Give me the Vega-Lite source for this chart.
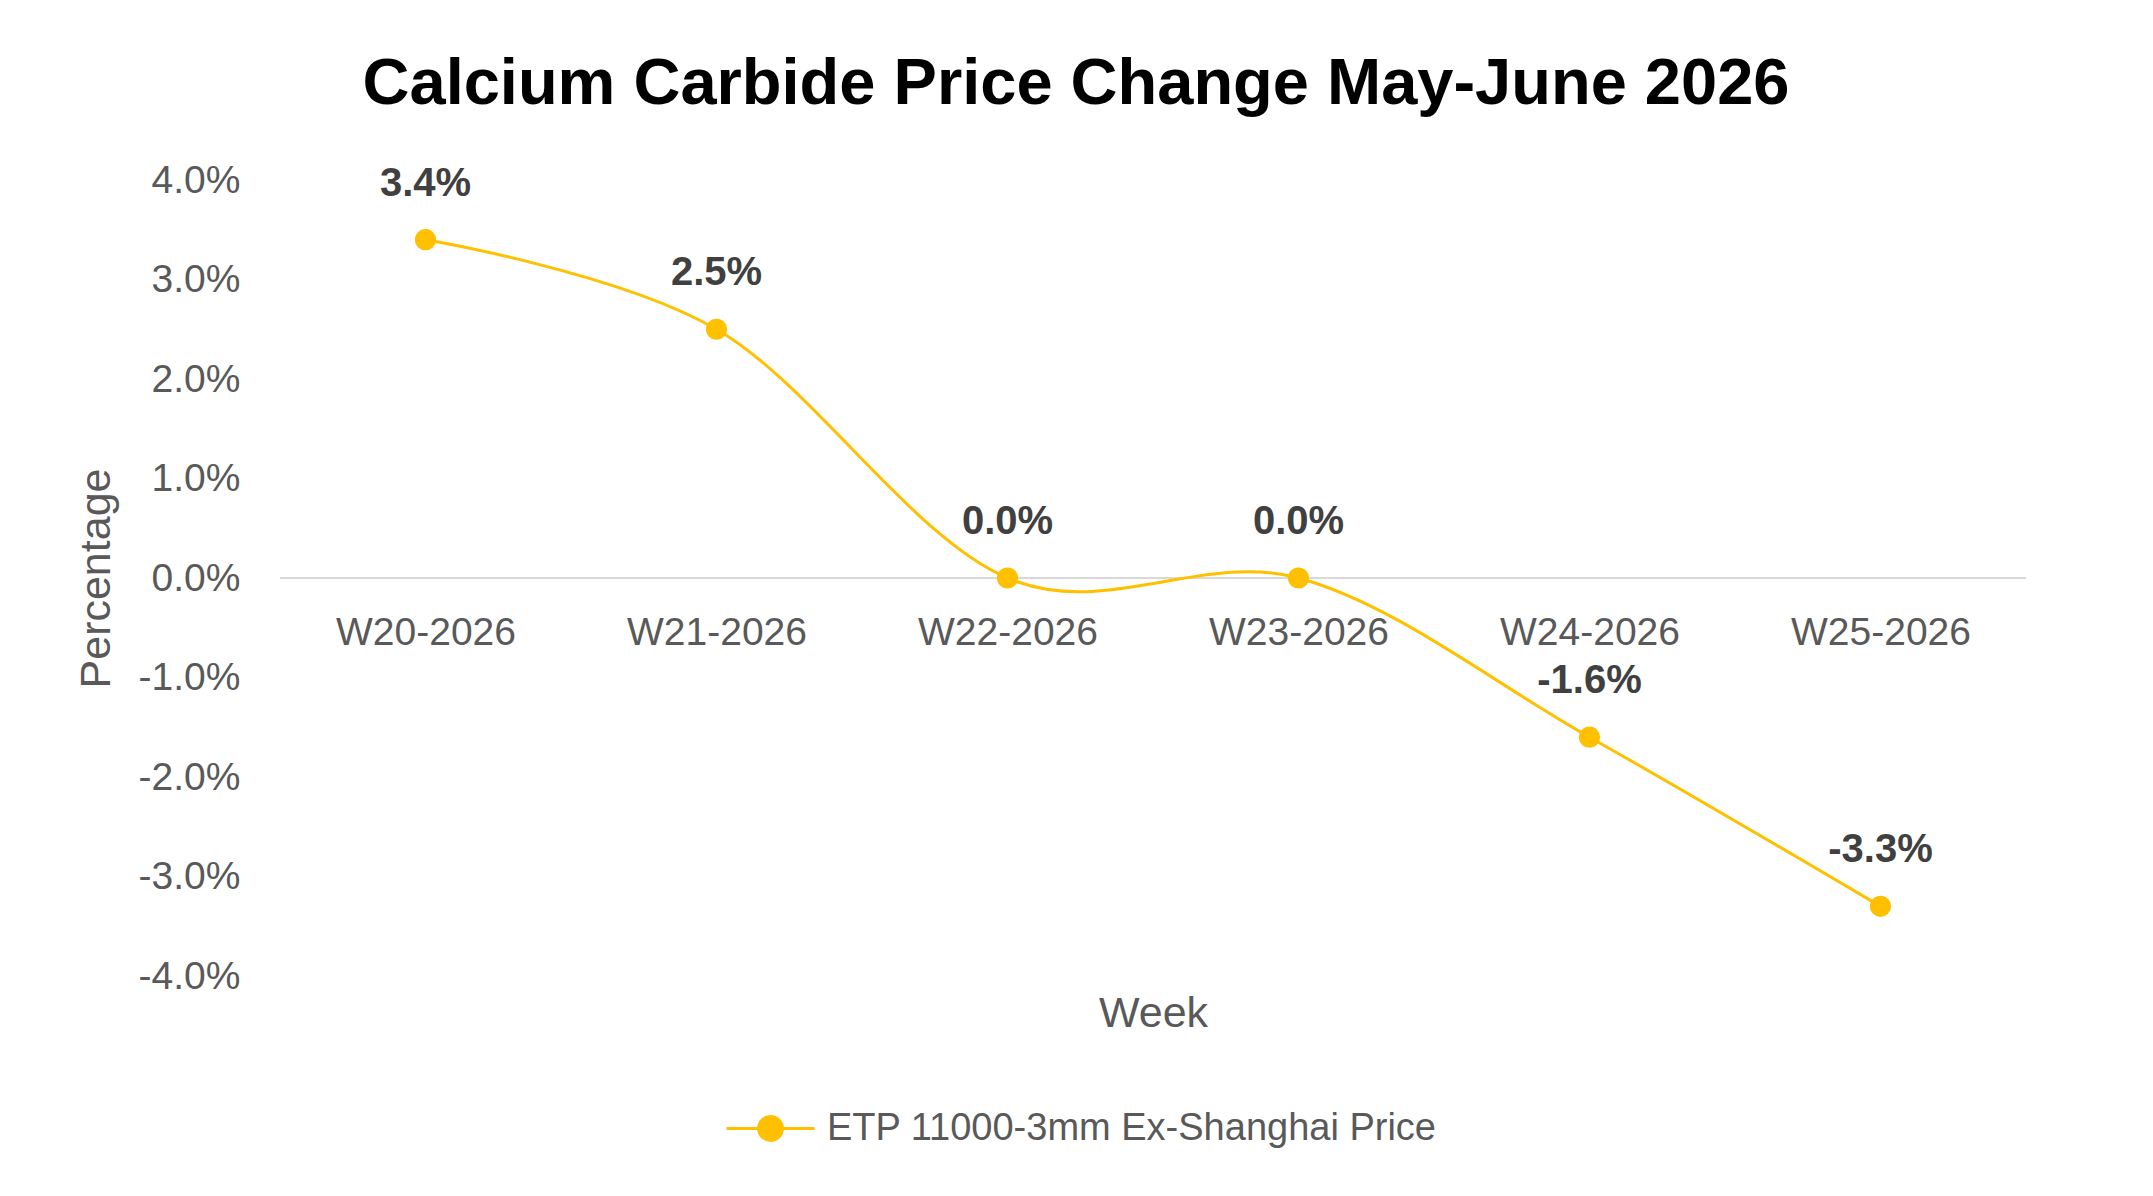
{
  "$schema": "https://vega.github.io/schema/vega-lite/v6.json",
  "autosize": {"type": "none"},
  "width": 1746,
  "height": 796,
  "padding": {"left": 280, "top": 180, "right": 127, "bottom": 220},
  "background": "white",
  "title": {
    "text": "Calcium Carbide Price Change May-June 2026",
    "font": "Liberation Sans",
    "fontSize": 65,
    "fontWeight": "bold",
    "color": "#000000",
    "anchor": "middle",
    "frame": "group",
    "dx": -77,
    "offset": 43
  },
  "data": {
    "values": [
      {"week": "W20-2026", "change": 0.034, "series": "ETP 11000-3mm Ex-Shanghai Price"},
      {"week": "W21-2026", "change": 0.025, "series": "ETP 11000-3mm Ex-Shanghai Price"},
      {"week": "W22-2026", "change": 0.0, "series": "ETP 11000-3mm Ex-Shanghai Price"},
      {"week": "W23-2026", "change": 0.0, "series": "ETP 11000-3mm Ex-Shanghai Price"},
      {"week": "W24-2026", "change": -0.016, "series": "ETP 11000-3mm Ex-Shanghai Price"},
      {"week": "W25-2026", "change": -0.033, "series": "ETP 11000-3mm Ex-Shanghai Price"}
    ]
  },
  "encoding": {
    "x": {
      "field": "week",
      "type": "ordinal",
      "sort": null,
      "scale": {"type": "point", "padding": 0.5},
      "axis": {
        "title": "Week",
        "titleFont": "Liberation Sans",
        "titleFontSize": 43,
        "titleFontWeight": "normal",
        "titleColor": "#595959",
        "titleY": 435,
        "titleBaseline": "middle",
        "labelFont": "Liberation Sans",
        "labelFontSize": 39,
        "labelColor": "#595959",
        "labelAngle": 0,
        "labelBaseline": "middle",
        "labelPadding": 54,
        "ticks": false,
        "tickSize": 0,
        "domain": false,
        "grid": false,
        "offset": -398
      }
    },
    "y": {
      "field": "change",
      "type": "quantitative",
      "scale": {"domain": [-0.04, 0.04], "nice": false, "zero": false},
      "axis": {
        "title": "Percentage",
        "titleFont": "Liberation Sans",
        "titleFontSize": 43,
        "titleFontWeight": "normal",
        "titleColor": "#595959",
        "titleAngle": 270,
        "titleX": -184,
        "titleY": 398,
        "titleAlign": "center",
        "titleBaseline": "middle",
        "values": [-0.04, -0.03, -0.02, -0.01, 0, 0.01, 0.02, 0.03, 0.04],
        "format": ".1%",
        "labelFont": "Liberation Sans",
        "labelFontSize": 39,
        "labelColor": "#595959",
        "labelPadding": 40,
        "ticks": false,
        "tickSize": 0,
        "domain": false,
        "grid": false
      }
    }
  },
  "layer": [
    {
      "mark": {"type": "rule", "color": "#d9d9d9", "strokeWidth": 2},
      "encoding": {"x": null, "y": {"datum": 0, "type": "quantitative"}}
    },
    {
      "mark": {"type": "line", "color": "#FFC000", "strokeWidth": 3, "interpolate": "cardinal"}
    },
    {
      "mark": {"type": "point", "filled": true, "opacity": 1},
      "encoding": {
        "color": {
          "field": "series",
          "type": "nominal",
          "scale": {"range": ["#FFC000"]},
          "legend": {
            "title": null,
            "orient": "none",
            "legendX": 445,
            "legendY": 903,
            "padding": 0,
            "symbolType": "M-1,0L1,0M-0.27,0A0.27,0.27,0,1,1,0.27,0A0.27,0.27,0,1,1,-0.27,0Z",
            "symbolSize": 7744,
            "symbolFillColor": "#FFC000",
            "symbolStrokeColor": "#FFC000",
            "symbolStrokeWidth": 3,
            "labelFont": "Liberation Sans",
            "labelFontSize": 38,
            "labelColor": "#595959",
            "labelOffset": 11,
            "labelLimit": 0,
            "encode": {
              "symbols": {
                "update": {
                  "fill": {"value": "#FFC000"},
                  "stroke": {"value": "#FFC000"},
                  "strokeOpacity": {"value": 1},
                  "strokeWidth": {"value": 3}
                }
              }
            }
          }
        }
      }
    },
    {
      "mark": {
        "type": "text",
        "font": "Liberation Sans",
        "fontSize": 40,
        "fontWeight": "bold",
        "color": "#404040",
        "baseline": "middle",
        "dy": -56
      },
      "encoding": {
        "text": {"field": "change", "type": "quantitative", "format": ".1%"}
      }
    }
  ],
  "config": {
    "view": {"stroke": null},
    "point": {"size": 450},
    "locale": {
      "number": {
        "decimal": ".",
        "thousands": ",",
        "grouping": [3],
        "currency": ["$", ""],
        "minus": "-"
      }
    }
  }
}
